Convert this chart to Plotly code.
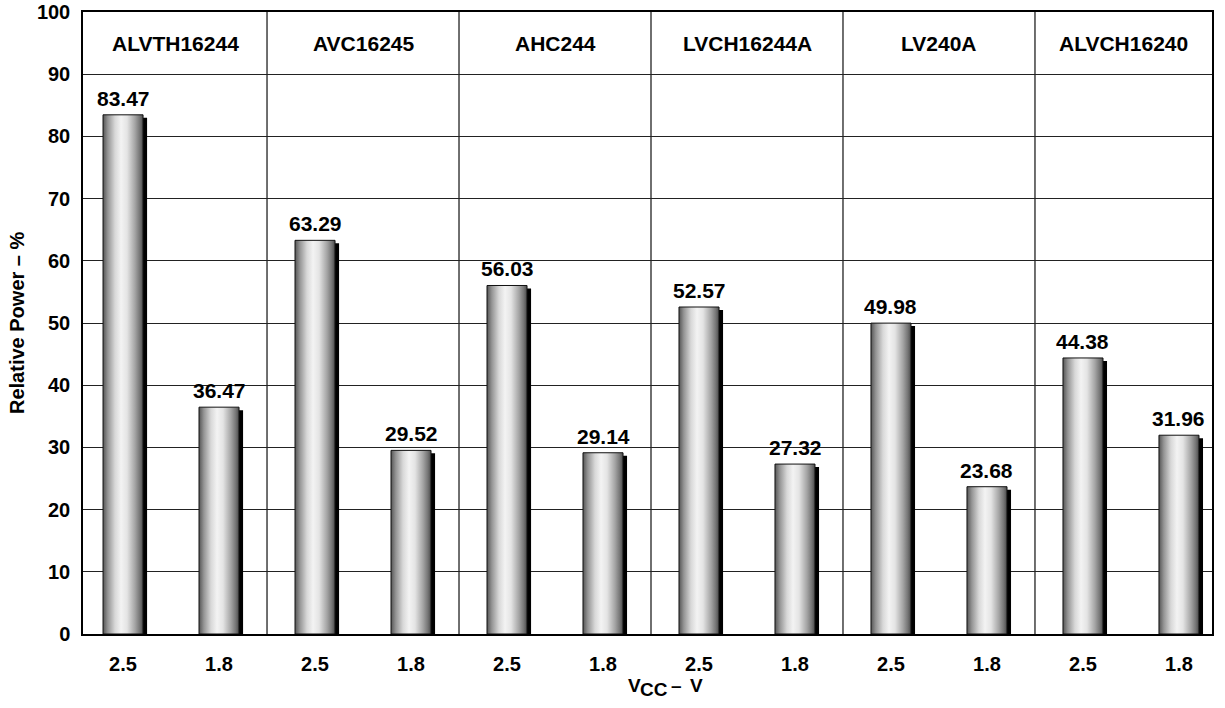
import plotly.graph_objects as go

# ---- data ----
categories = ["ALVTH16244", "AVC16245", "AHC244", "LVCH16244A", "LV240A", "ALVCH16240"]
vcc_labels = ["2.5", "1.8"]
power_25 = [83.47, 63.29, 56.03, 52.57, 49.98, 44.38]
power_18 = [36.47, 29.52, 29.14, 27.32, 23.68, 31.96]

values = []
tick_text = []
for a, b in zip(power_25, power_18):
    values += [a, b]
    tick_text += vcc_labels
positions = list(range(len(values)))

FONT = "Liberation Sans, Arial, Helvetica, sans-serif"
BAR_W = 0.417
SH_DX = 0.042
SH_DY = 0.48
X_RANGE = [-0.417, 11.344]
ML, MR, MT, MB = 83, 13, 12, 74
W, H = 1225, 708
PW = W - ML - MR

fig = go.Figure()

# shadows
fig.add_trace(go.Bar(
    x=[p + SH_DX for p in positions],
    y=[v - SH_DY for v in values],
    width=BAR_W,
    marker=dict(color="black", line=dict(width=0)),
    hoverinfo="skip",
    showlegend=False,
))

# gradient bars
grad = [[0.0, "#555555"], [0.12, "#949494"], [0.3, "#d8d8d8"], [0.45, "#f3f3f3"],
        [0.6, "#e4e4e4"], [0.8, "#a4a4a4"], [0.92, "#757575"], [1.0, "#4a4a4a"]]
for p, v in zip(positions, values):
    x0, x1 = p - BAR_W / 2, p + BAR_W / 2
    fig.add_trace(go.Scatter(
        x=[x0, x1, x1, x0, x0],
        y=[0, 0, v, v, 0],
        mode="lines",
        fill="toself",
        fillgradient=dict(type="horizontal", colorscale=grad, start=x0, stop=x1),
        line=dict(color="#111111", width=1),
        hoverinfo="skip",
        showlegend=False,
    ))

annotations = []
# value labels
for p, v in zip(positions, values):
    annotations.append(dict(
        x=p, y=v, xref="x", yref="y", text=f"{v:.2f}", showarrow=False,
        yanchor="bottom", yshift=3,
        font=dict(family=FONT, size=21, color="black", weight="bold"),
    ))

# category headers
dividers = [1.5 + 2 * i for i in range(len(categories) - 1)]
edges = [X_RANGE[0]] + dividers + [X_RANGE[1]]
for i, c in enumerate(categories):
    annotations.append(dict(
        x=(edges[i] + edges[i + 1]) / 2, y=95, xref="x", yref="y", text=c,
        showarrow=False, font=dict(family=FONT, size=21, color="black", weight="bold"),
    ))

# y axis title
annotations.append(dict(
    x=(17 - ML) / PW, y=0.5, xref="paper", yref="paper", xanchor="center",
    text="Relative Power – %", textangle=-90, showarrow=False,
    font=dict(family=FONT, size=20, color="black", weight="bold"),
))
# x axis title: V, subscript CC (full size, lowered), – V
xt_parts = [("V", 626, 0), ("CC", 638, -4), ("–", 669, 0), ("V", 688, 0)]
for txt, px, ysh in xt_parts:
    annotations.append(dict(
        x=(px - ML) / PW, y=-0.062, xref="paper", yref="paper",
        xanchor="left", yanchor="top", yshift=ysh, text=txt, showarrow=False,
        font=dict(family=FONT, size=19, color="black", weight="bold"),
    ))

shapes = [dict(type="line", x0=d, x1=d, y0=0, y1=100, xref="x", yref="y",
               line=dict(color="#222222", width=1.3), layer="below") for d in dividers]

fig.update_layout(
    width=W, height=H,
    margin=dict(l=ML, r=MR, t=MT, b=MB, autoexpand=False),
    paper_bgcolor="white", plot_bgcolor="white",
    barmode="overlay",
    showlegend=False,
    annotations=annotations,
    shapes=shapes,
    xaxis=dict(
        range=X_RANGE, tickmode="array", tickvals=positions, ticktext=tick_text,
        showgrid=False, zeroline=False, ticks="", automargin=False,
        showline=True, mirror=True, linecolor="black", linewidth=1.5,
        tickfont=dict(family=FONT, size=20, color="black", weight="bold"),
        ticklabelstandoff=11,
    ),
    yaxis=dict(
        range=[0, 100], dtick=10, tick0=0, automargin=False,
        showgrid=True, gridcolor="#222222", gridwidth=1.2, zeroline=False, ticks="",
        showline=True, mirror=True, linecolor="black", linewidth=1.5,
        tickfont=dict(family=FONT, size=20, color="black", weight="bold"),
        ticklabelstandoff=7,
    ),
)

fig.write_html(
    "out.html",
    config={"displayModeBar": False},
    post_script="document.body.style.margin='0px';",
)
